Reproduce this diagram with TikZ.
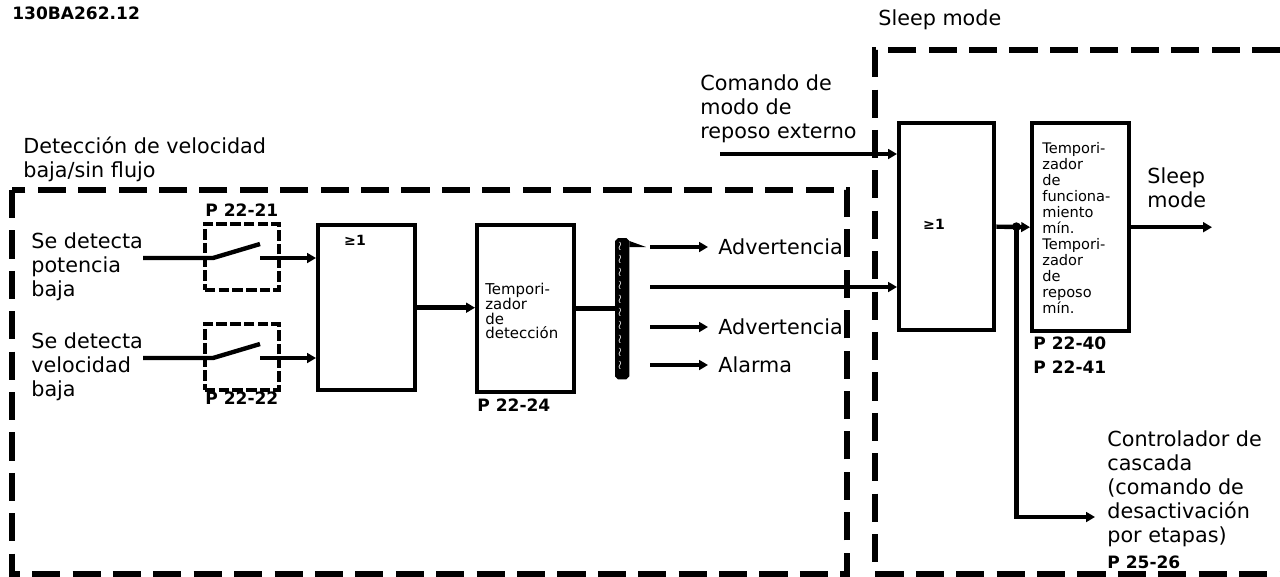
\documentclass[tikz,border=0pt]{standalone}
\usepackage{fontspec}
\setmainfont{DejaVu Sans}
\usetikzlibrary{arrows.meta,calc}

\begin{document}
\begin{tikzpicture}[x=0.02cm,y=-0.02cm,>={Triangle[length=5pt,width=5.5pt]},
  ln/.style={line width=2.5pt},
  blk/.style={draw,line width=2.5pt,anchor=north west,inner sep=0pt},
  dbox/.style={line width=3pt,dash pattern=on 16pt off 7pt},
  swbox/.style={draw,line width=2.2pt,dash pattern=on 6pt off 1.8pt,anchor=north west,
    inner sep=0pt,minimum width=1.48cm,minimum height=1.32cm},
  txt/.style={inner sep=0pt,align=left,anchor=west,font=\fontsize{11.8}{13.7}\selectfont},
  small/.style={inner sep=0pt,align=left,anchor=west,font=\fontsize{8.5}{8.6}\selectfont},
  par/.style={inner sep=0pt,anchor=west,font=\fontsize{9.7}{13.7}\selectfont\bfseries},
  orsym/.style={inner sep=0pt,font=\fontsize{8}{10}\selectfont\bfseries}]
 \useasboundingbox (0,0) rectangle (1280,576);
 \node[par] (code) at (12,13) {130BA262.12};
 % frames
 \draw[dbox] (12,190) rectangle (847,574);
 \draw[dbox] (1280,50) -- (875,50) -- (875,574) -- (1280,574);
 \node[txt] (sleeptitle) at (878,20) {Sleep mode};
 \node[txt] (dettitle) at (23,159) {Detección de velocidad\\baja/sin flujo};
 % inputs and switches
 \node[txt] (pow) at (31,267) {Se detecta\\potencia\\baja};
 \node[txt] (spd) at (31,367) {Se detecta\\velocidad\\baja};
 \node[swbox] (sw1) at (203,222) {};
 \node[swbox] (sw2) at (203,322) {};
 \node[par] (p2221) at (205,210) {P 22-21};
 \node[par] (p2222) at (205,398) {P 22-22};
 \node[blk,minimum width=1.94cm,minimum height=3.3cm] (or1) at (316,223) {};
 \node[orsym] at (355,240) {≥1};
 \coordinate (in1) at (143,258); \coordinate (k1) at (213,258); \coordinate (s1) at (260,258);
 \coordinate (in2) at (143,358); \coordinate (k2) at (213,358); \coordinate (s2) at (260,358);
 \draw[ln] (in1) -- (k1) -- ++(47,-14);
 \draw[ln] (in2) -- (k2) -- ++(47,-14);
 \draw[ln,->] (s1) -- (s1 -| or1.west);
 \draw[ln,->] (s2) -- (s2 -| or1.west);
 % detection timer
 \node[blk,minimum width=1.94cm,minimum height=3.34cm] (timA) at (475,223) {};
 \node[small,font=\fontsize{8.5}{8.5}\selectfont] (timAtxt) at (485,311) {Tempori-\\zador\\de\\detección};
 \node[par] (p2224) at (477,405) {P 22-24};
 \draw[ln,->] (or1.east) -- (or1.east -| timA.west);
 \node[blk,fill=black,rounded corners=1pt,minimum width=0.2cm,minimum height=2.74cm] (bar) at (615,238) {};
 \foreach \k in {0,...,9}
   \node[text=white,inner sep=0pt,font=\scriptsize] at (620,246+\k*13.3) {$\wr$};
 \draw[ln] (timA.east) -- (timA.east -| bar.west);
 % outputs
 \coordinate (a1) at (650,247);
 \coordinate (a2) at (650,287);
 \fill (bar.east |- a1) ++(0,-6) -- (646,247) -- (bar.east |- a1) ++(0,6) -- cycle;
 \node[txt] (adv1) at (718,247) {Advertencia};
 \node[txt] (adv2) at (718,327) {Advertencia};
 \node[txt] (alm) at (718,365) {Alarma};
 \draw[ln,->] (a1) -- ([xshift=-0.2cm]adv1.west);
 \draw[ln,->] ([xshift=-1.36cm]adv2.west) -- ([xshift=-0.2cm]adv2.west);
 \draw[ln,->] ([xshift=-1.36cm]alm.west) -- ([xshift=-0.2cm]alm.west);
 % sleep mode
 \node[txt] (cmd) at (700,109) {Comando de\\modo de\\reposo externo};
 \node[blk,minimum width=1.9cm,minimum height=4.14cm] (or2) at (897,121) {};
 \node[orsym] at (934,224) {≥1};
 \coordinate (c0) at (720,154);
 \draw[ln,->] (c0) -- (c0 -| or2.west);
 \draw[ln,->] (a2) -- (a2 -| or2.west);
 \node[blk,minimum width=1.94cm,minimum height=4.16cm] (timB) at (1030,121) {};
 \node[small,font=\fontsize{8.3}{9.1}\selectfont] (timBtxt) at (1042,228)
   {Tempori-\\zador\\de\\funciona-\\miento\\mín.\\Tempori-\\zador\\de\\reposo\\mín.};
 \node[par] (p2240) at (1033,343) {P 22-40};
 \node[par] (p2241) at (1033,367) {P 22-41};
 \draw[ln,->] (or2.east) -- (timB.west);
 \coordinate (j) at ($(or2.east)+(20,0)$);
 \fill (j) circle (2.5pt);
 \coordinate (c1) at (1095,517);
 \draw[ln,->] (j) |- (c1);
 \node[txt] (ctl) at (1107,489) {Controlador de\\cascada\\(comando de\\desactivación\\por etapas)};
 \node[par] (p2526) at (1107,562) {P 25-26};
 \coordinate (sl) at (1212,225);
 \draw[ln,->] (timB.east) -- (timB.east -| sl);
 \node[txt] (slp) at (1147,188) {Sleep\\mode};
\end{tikzpicture}
\end{document}
